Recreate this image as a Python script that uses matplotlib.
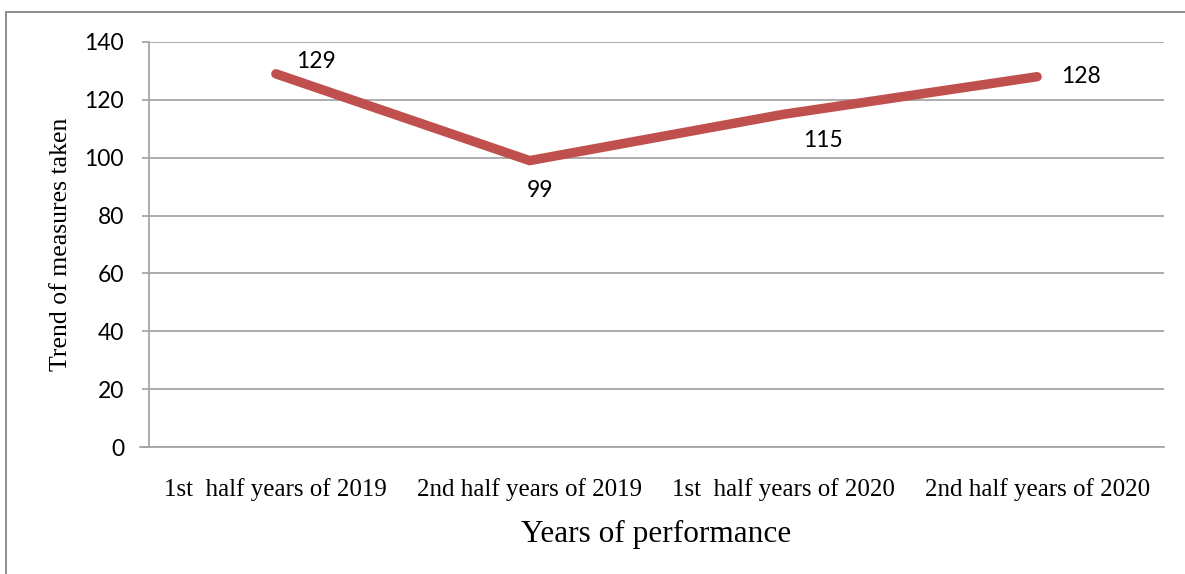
import matplotlib.pyplot as plt
from matplotlib.patches import Rectangle

# half-year periods and number of measures taken
periods = ["1st  half years of 2019", "2nd half years of 2019",
           "1st  half years of 2020", "2nd half years of 2020"]
measures = [129, 99, 115, 128]
y_ticks = [0, 20, 40, 60, 80, 100, 120, 140]

# label offsets in pixels (dx, dy) from each point
label_offsets = [(40, 12), (10, -30), (40, -26), (44, 0)]

W, H = 1185, 574
fig = plt.figure(figsize=(W / 100, H / 100), dpi=100)
ax = fig.add_axes([149 / W, 1 - 447 / H, (1164 - 149) / W, (447 - 42) / H])

grid_col = "#a6a6a6"
line_col = "#c0504d"

x = list(range(len(periods)))
ax.plot(x, measures, color=line_col, linewidth=6.8, solid_capstyle="round",
        solid_joinstyle="miter", zorder=3)

for xi, v, (dx, dy) in zip(x, measures, label_offsets):
    ax.annotate(str(v), (xi, v), xytext=(dx * 0.72, dy * 0.72),
                textcoords="offset points", ha="center", va="center",
                fontsize=16.5, family="Lato", color="black")

ax.set_xlim(-0.5, len(periods) - 0.5)
ax.set_ylim(0, 140)
ax.set_yticks(y_ticks)
ax.set_yticklabels([str(t) for t in y_ticks], family="Lato", fontsize=16.5)
ax.set_xticks(x)
ax.set_xticklabels(periods, family="Liberation Serif", fontsize=18)

ax.yaxis.grid(True, color=grid_col, linewidth=1.3)
ax.set_axisbelow(True)
ax.tick_params(axis="y", length=5, width=1.3, color=grid_col, pad=13)
ax.tick_params(axis="x", length=0, pad=22)

for s in ["top", "right"]:
    ax.spines[s].set_visible(False)
for s in ["left", "bottom"]:
    ax.spines[s].set_color(grid_col)
    ax.spines[s].set_linewidth(1.3)
ax.spines["bottom"].set_bounds(-0.535, len(periods) - 0.5)

ax.set_xlabel("Years of performance", family="Liberation Serif",
              fontsize=22.5, labelpad=14)
ax.set_ylabel("Trend of measures taken", family="Liberation Serif",
              fontsize=18.5, labelpad=9)

# outer chart frame
fig.patches.append(Rectangle((6 / W, -0.1), 1.2, 1 - 12 / H + 0.1,
                             transform=fig.transFigure, fill=False,
                             edgecolor="#8c8c8c", linewidth=1.4))

fig.savefig("out.png", dpi=100)
